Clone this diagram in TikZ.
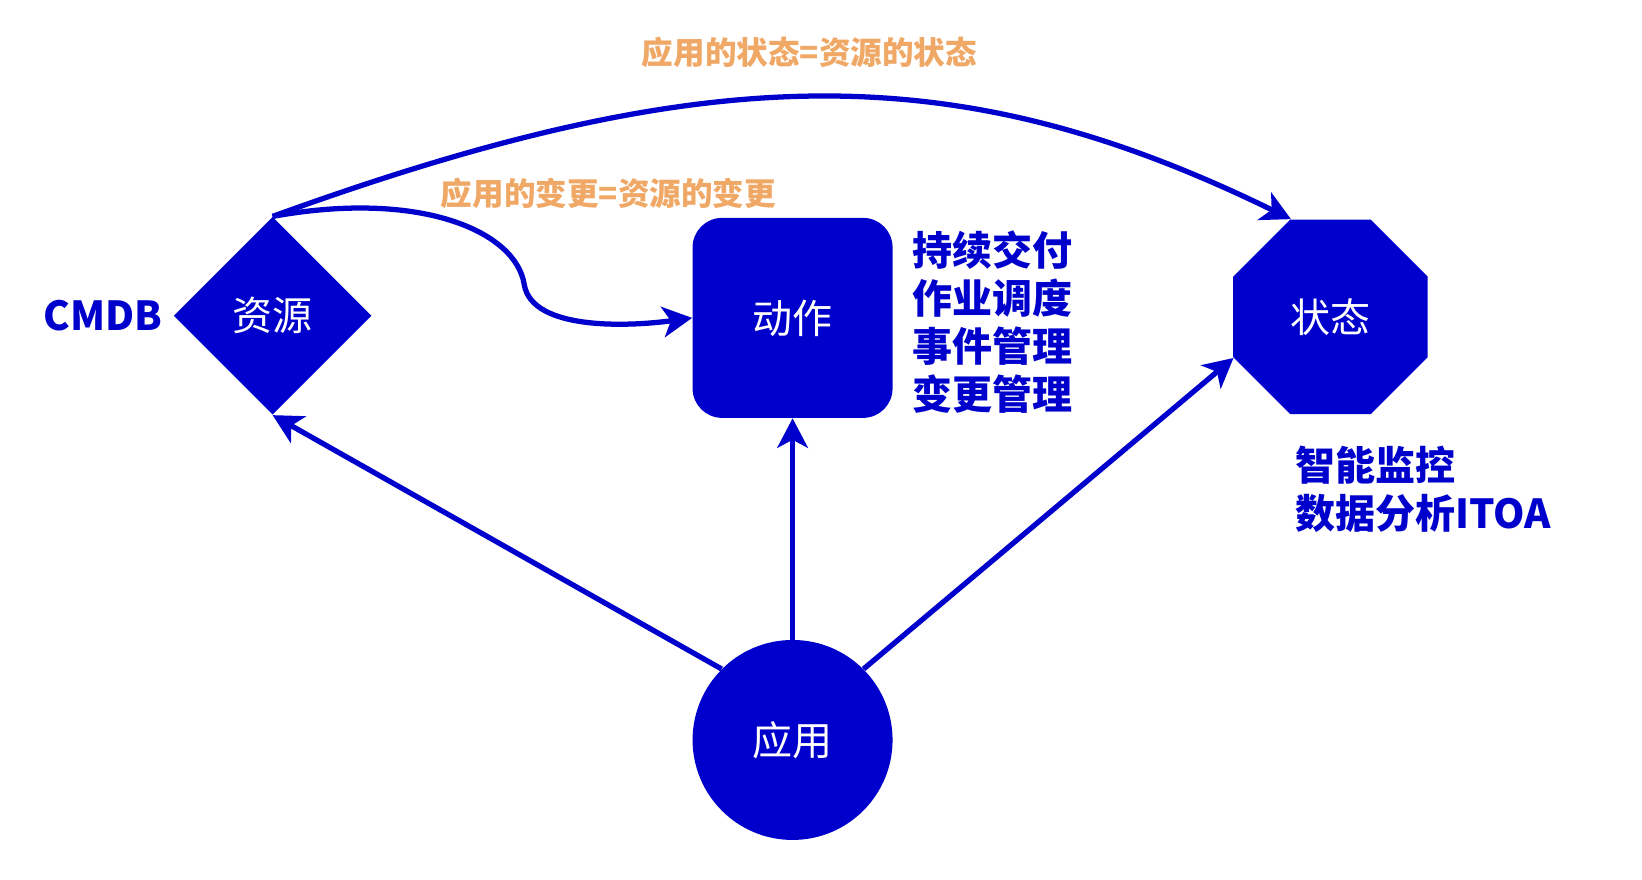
\documentclass[tikz,border=0pt]{standalone}
\usepackage{fontspec}
\setmainfont{Noto Sans CJK SC}
\usepackage{tikz}
\usetikzlibrary{arrows.meta,shapes.geometric,positioning}
\definecolor{cmblue}{RGB}{0,0,204}
\definecolor{cmorange}{RGB}{240,168,102}
\tikzset{
    %Define standard arrow tip
    >={Stealth[length=14pt,width=14.5pt,inset=3.8pt]},
    %Define style for shapes
    resbox/.style={
           diamond,
           fill=cmblue,
           inner sep=0pt,
           minimum width=94pt,
           minimum height=94pt,
           text=white,
           font=\fontsize{19pt}{23pt}\selectfont},
    actbox/.style={
           rectangle,
           rounded corners=14pt,
           fill=cmblue,
           minimum width=95pt,
           minimum height=95pt,
           text=white,
           font=\fontsize{19pt}{23pt}\selectfont},
    statebox/.style={
           regular polygon,
           regular polygon sides=8,
           fill=cmblue,
           inner sep=0pt,
           minimum size=100pt,
           text=white,
           font=\fontsize{19pt}{23pt}\selectfont},
    appbox/.style={
           circle,
           fill=cmblue,
           inner sep=0pt,
           minimum size=95pt,
           text=white,
           font=\fontsize{19pt}{23pt}\selectfont},
    %Define style for labels
    bluelabel/.style={
           inner sep=0pt,
           align=left,
           text=cmblue,
           font=\fontsize{19pt}{22.8pt}\selectfont\bfseries},
    orangelabel/.style={
           inner sep=0pt,
           text=cmorange,
           font=\fontsize{15pt}{18pt}\selectfont\bfseries},
    % Define arrow style
    flow/.style={
           ->,
           draw=cmblue,
           line width=2.5pt}
}
\begin{document}
\begin{tikzpicture}[x=0.5pt,y=-0.5pt]
\useasboundingbox (0,0) rectangle (1560,836);
\node[resbox](res) at (259,300){资源};
\node[actbox](act) at (753,302){动作};
\node[statebox](state) at (1264,301){状态};
\node[appbox](app) at (753,703){应用};
\node[bluelabel, left=5pt of res](cmdb){CMDB};
\node[bluelabel, right=9pt of act, yshift=-2pt](acttext){持续交付\\作业调度\\事件管理\\变更管理};
\node[bluelabel, anchor=north west](statetext) at (1230,423){智能监控\\数据分析ITOA};
\node[orangelabel](toptext) at (769,50){应用的状态=资源的状态};
\node[orangelabel](midtext) at (578,184){应用的变更=资源的变更};
\draw[flow] (res.north) .. controls (677,54) and (911,54) .. (state.112);
\draw[flow] (res.north) .. controls (400,180) and (490,220) .. (498,270)
    .. controls (505,315) and (600,310) .. (act.west);
\draw[flow] (app.135) -- (res.south);
\draw[flow] (app) -- (act);
\draw[flow] (app.45) -- (state.203);
\end{tikzpicture}
\end{document}
